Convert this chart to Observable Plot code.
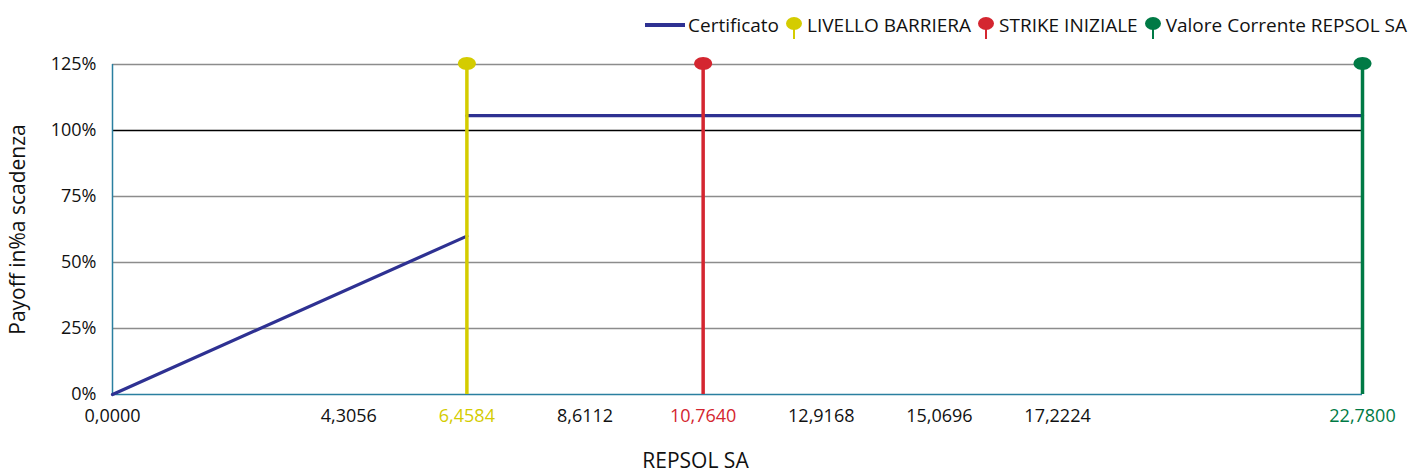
<!DOCTYPE html>
<html><head><meta charset="utf-8">
<script src="https://cdn.jsdelivr.net/npm/d3@7"></script>
<script src="https://cdn.jsdelivr.net/npm/@observablehq/plot@0.6"></script>
<style>
body{margin:0;background:#fff;font-family:"Open Sans","Noto Sans",sans-serif;}
#legend{height:48px;display:flex;justify-content:flex-end;align-items:center;padding-right:2px;box-sizing:border-box;font-size:19px;color:#111;padding-top:2px;}
#legend .item{display:flex;align-items:center;}
#legend .pin{margin-left:7px;margin-right:5px;}
#legend .sw{margin-right:3px;}
#chart svg g[aria-label="x-axis tick label"] text, #chart svg g[aria-label="y-axis tick label"] text{font-size:18px;}
#chart svg g[aria-label="y-axis label"] text{font-size:21px;}
</style></head>
<body>
<div id="legend"></div>
<div id="chart"></div>
<script>
// ---- data ----
const xTicks = [0, 4.3056, 6.4584, 8.6112, 10.764, 12.9168, 15.0696, 17.2224, 22.78];
const yTicks = [0, 25, 50, 75, 100, 125];
const lowX = [0, 6.4584];
const lowY = [0, 60];
const highX = [6.4584, 22.78];
const highY = [105.6, 105.6];
const levelNames = ["LIVELLO BARRIERA", "STRIKE INIZIALE", "Valore Corrente REPSOL SA"];
const levelValues = [6.4584, 10.764, 22.78];
const levelColors = ["#d4cc00", "#d42630", "#007a45"];
const seriesName = "Certificato";
const seriesColor = "#2e3192";
const yMax = 125;

// ---- derived tables ----
const low = lowX.map((x, i) => ({x, y: lowY[i]}));
const high = highX.map((x, i) => ({x, y: highY[i]}));
const levels = levelValues.map((v, i) => ({v, name: levelNames[i], color: levelColors[i]}));
const tickColor = d => { const i = levelValues.indexOf(d); return i >= 0 ? levelColors[i] : "#111"; };
const fmtX = d => d.toFixed(4).replace(".", ",");

const ellipse = {draw(ctx) {
  const rx = 9, ry = 6.5, k = 0.5523;
  ctx.moveTo(rx, 0);
  ctx.bezierCurveTo(rx, ry*k, rx*k, ry, 0, ry);
  ctx.bezierCurveTo(-rx*k, ry, -rx, ry*k, -rx, 0);
  ctx.bezierCurveTo(-rx, -ry*k, -rx*k, -ry, 0, -ry);
  ctx.bezierCurveTo(rx*k, -ry, rx, -ry*k, rx, 0);
  ctx.closePath();
}};

const chart = Plot.plot({
  width: 1409, height: 424,
  marginLeft: 112, marginRight: 47, marginTop: 16, marginBottom: 78,
  style: {fontFamily: '"Open Sans","Noto Sans",sans-serif', fontSize: "18px", color: "#111"},
  color: {type: "identity"},
  x: {domain: [0, 22.78], ticks: xTicks},
  y: {domain: [0, yMax], ticks: yTicks},
  marks: [
    Plot.ruleY(yTicks.filter(t => t > 0 && t !== 100), {stroke: "#8c8c8c", strokeWidth: 1.3}),
    Plot.ruleY([100], {stroke: "#000", strokeWidth: 1.5}),
    Plot.ruleX([0], {y1: 0, y2: yMax, stroke: "#2a7fa0", strokeWidth: 1.5}),
    Plot.ruleY([0], {stroke: "#2a7fa0", strokeWidth: 1.5}),
    Plot.line(low, {x: "x", y: "y", stroke: seriesColor, strokeWidth: 3.2}),
    Plot.line(high, {x: "x", y: "y", stroke: seriesColor, strokeWidth: 3.2}),
    Plot.ruleX(levels, {x: "v", y1: 0, y2: yMax, stroke: "color", strokeWidth: 3.5}),
    Plot.dot(levels, {x: "v", y: () => yMax, fill: "color", symbol: ellipse, dy: -1}),
    Plot.axisY({ticks: yTicks, tickSize: 0, tickPadding: 16, tickFormat: d => d + "%",
      label: "Payoff in%a scadenza", labelAnchor: "center", labelArrow: "none", labelOffset: 102}),
    Plot.axisX({ticks: xTicks, tickSize: 0, tickPadding: 15, tickFormat: fmtX, fill: tickColor, label: null}),
    Plot.text(["REPSOL SA"], {frameAnchor: "bottom", dx: -42, dy: 73, fontSize: 21, fill: "#111"})
  ]
});
document.getElementById("chart").appendChild(chart);

// ---- legend ----
const lg = document.getElementById("legend");
const it0 = document.createElement("div"); it0.className = "item";
it0.innerHTML = `<svg class="sw" width="40" height="12"><line x1="0" x2="40" y1="6" y2="6" stroke="${seriesColor}" stroke-width="4"/></svg><span>${seriesName}</span>`;
lg.appendChild(it0);
levels.forEach(l => {
  const it = document.createElement("div"); it.className = "item";
  it.innerHTML = `<svg class="pin" width="16" height="24" style="margin-top:8px"><line x1="8" x2="8" y1="9" y2="22" stroke="${l.color}" stroke-width="2"/><ellipse cx="8" cy="6.5" rx="8" ry="6.5" fill="${l.color}"/></svg><span>${l.name}</span>`;
  lg.appendChild(it);
});
</script>
</body></html>
